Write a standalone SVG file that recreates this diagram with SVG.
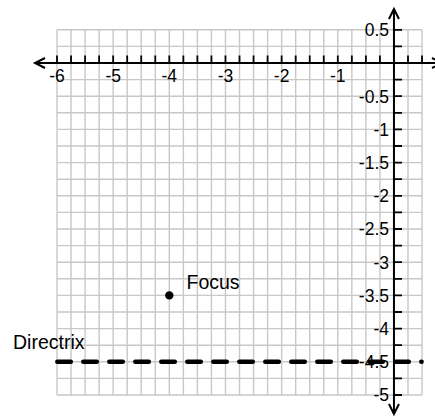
<svg xmlns="http://www.w3.org/2000/svg" width="435" height="417" viewBox="0 0 435 417">
<style>
.grid{stroke:#c8c8c8;stroke-width:1.4;fill:none}
.axis{stroke:#000;stroke-width:2;fill:none}
.tick{stroke:#000;stroke-width:1.8;fill:none}
.lbl{font-family:"Liberation Sans",Arial,sans-serif;font-size:17.5px;fill:#000}
.xl{text-anchor:middle}
.yl{text-anchor:end}
.big{font-family:"Liberation Sans",Arial,sans-serif;font-size:19.5px;fill:#000}
.dir{stroke:#000;stroke-width:4.5;stroke-linecap:round;stroke-dasharray:13.5 12.5;fill:none}
</style>
<rect width="435" height="417" fill="#fff"/>
<g id="grid">
<path class="grid" d="M57 29.8V395M71.04 29.8V395M85.08 29.8V395M99.12 29.8V395M113.16 29.8V395M127.2 29.8V395M141.24 29.8V395M155.28 29.8V395M169.32 29.8V395M183.36 29.8V395M197.4 29.8V395M211.44 29.8V395M225.48 29.8V395M239.52 29.8V395M253.56 29.8V395M267.6 29.8V395M281.64 29.8V395M295.68 29.8V395M309.72 29.8V395M323.76 29.8V395M337.8 29.8V395M351.84 29.8V395M365.88 29.8V395M379.92 29.8V395M393.96 29.8V395M408 29.8V395M422.04 29.8V395"/>
<path class="grid" d="M57 29.8H422.04M57 46.4H422.04M57 63H422.04M57 79.6H422.04M57 96.2H422.04M57 112.8H422.04M57 129.4H422.04M57 146H422.04M57 162.6H422.04M57 179.2H422.04M57 195.8H422.04M57 212.4H422.04M57 229H422.04M57 245.6H422.04M57 262.2H422.04M57 278.8H422.04M57 295.4H422.04M57 312H422.04M57 328.6H422.04M57 345.2H422.04M57 361.8H422.04M57 378.4H422.04M57 395H422.04"/>
</g>
<g id="directrix-line">
<path class="dir" d="M57.3 361.8H421.6"/>
</g>
<g id="axes">
<path class="axis" d="M35 63H442"/>
<path class="axis" d="M393.96 9V414"/>
<path class="axis" d="M45 58L35 63L45 68"/>
<path class="axis" d="M432 58L442 63L432 68"/>
<path class="axis" d="M388.96 19L393.96 9L398.96 19"/>
<path class="axis" d="M388.96 404L393.96 414L398.96 404"/>
<path class="tick" d="M57 55.5V63M71.04 55.5V63M85.08 55.5V63M99.12 55.5V63M113.16 55.5V63M127.2 55.5V63M141.24 55.5V63M155.28 55.5V63M169.32 55.5V63M183.36 55.5V63M197.4 55.5V63M211.44 55.5V63M225.48 55.5V63M239.52 55.5V63M253.56 55.5V63M267.6 55.5V63M281.64 55.5V63M295.68 55.5V63M309.72 55.5V63M323.76 55.5V63M337.8 55.5V63M351.84 55.5V63M365.88 55.5V63M379.92 55.5V63M408 55.5V63M422.04 55.5V63"/>
<path class="tick" d="M393.96 29.8H402M393.96 46.4H402M393.96 79.6H402M393.96 96.2H402M393.96 112.8H402M393.96 129.4H402M393.96 146H402M393.96 162.6H402M393.96 179.2H402M393.96 195.8H402M393.96 212.4H402M393.96 229H402M393.96 245.6H402M393.96 262.2H402M393.96 278.8H402M393.96 295.4H402M393.96 312H402M393.96 328.6H402M393.96 345.2H402M393.96 361.8H402M393.96 378.4H402M393.96 395H402"/>
</g>
<g id="x-labels" class="lbl xl">
<text x="57" y="82">-6</text>
<text x="113.16" y="82">-5</text>
<text x="169.32" y="82">-4</text>
<text x="225.48" y="82">-3</text>
<text x="281.64" y="82">-2</text>
<text x="337.8" y="82">-1</text>
</g>
<g id="y-labels" class="lbl yl">
<text x="389" y="36.2">0.5</text>
<text x="389" y="102.6">-0.5</text>
<text x="389" y="135.8">-1</text>
<text x="389" y="169">-1.5</text>
<text x="389" y="202.2">-2</text>
<text x="389" y="235.4">-2.5</text>
<text x="389" y="268.6">-3</text>
<text x="389" y="301.8">-3.5</text>
<text x="389" y="335">-4</text>
<text x="389" y="368.2">-4.5</text>
<text x="389" y="401.4">-5</text>
</g>
<g id="focus">
<circle cx="169.32" cy="295.4" r="4.2" fill="#000"/>
<text class="big" x="186.5" y="288.5">Focus</text>
</g>
<g id="directrix">
<text class="big" x="13" y="349">Directrix</text>
</g>
</svg>
